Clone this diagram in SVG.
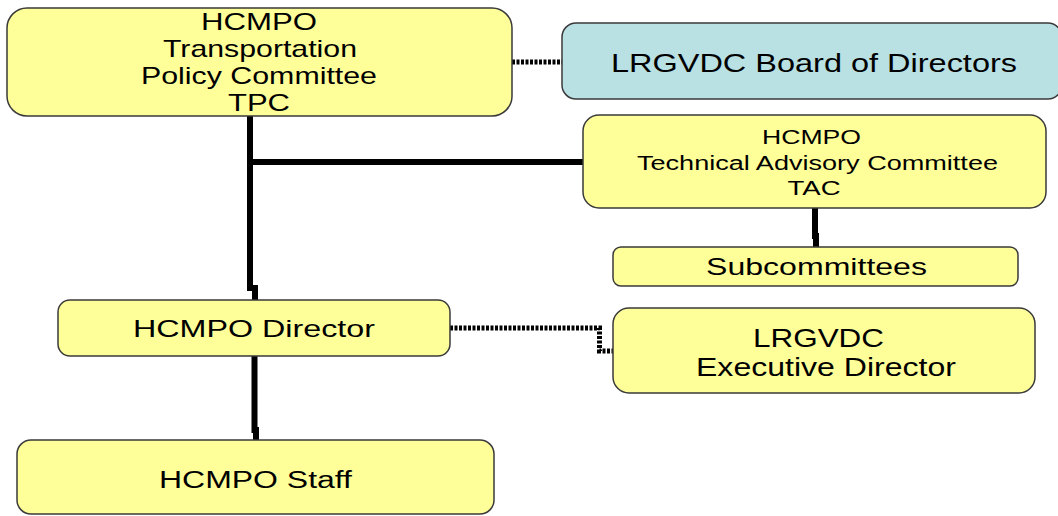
<svg xmlns="http://www.w3.org/2000/svg" width="1058" height="516" viewBox="0 0 1058 516">
<style>
.box{fill:#ffff99;stroke:#3a3a3a;stroke-width:1.5}
.blue{fill:#b9e0e3;stroke:#3a3a3a;stroke-width:1.5}
.t{font-family:"Liberation Sans",Arial,sans-serif;fill:#000;text-anchor:middle}
.solid{fill:none;stroke:#000;stroke-width:6}
.dot{fill:none;stroke:#000;stroke-width:5;stroke-dasharray:3 1.5}
</style>
<rect width="1058" height="516" fill="#fff"/>
<g id="connectors">
<path class="solid" d="M250,116 V288 H255 V301"/>
<path class="solid" d="M250,162 H583"/>
<path class="solid" d="M815,208 V236 H816 V247"/>
<path class="solid" d="M254.5,356 V430 H256 V440"/>
<path class="dot" d="M512,62 H562"/>
<path class="dot" d="M450,328 H599.5 V351 H613"/>
</g>
<g id="tpc">
<rect class="box" x="7" y="8" width="505" height="108" rx="20"/>
<text class="t" font-size="24" x="259" y="30" textLength="116" lengthAdjust="spacingAndGlyphs">HCMPO</text>
<text class="t" font-size="24" x="260" y="57" textLength="194" lengthAdjust="spacingAndGlyphs">Transportation</text>
<text class="t" font-size="24" x="259" y="84" textLength="236" lengthAdjust="spacingAndGlyphs">Policy Committee</text>
<text class="t" font-size="24" x="259" y="111" textLength="62" lengthAdjust="spacingAndGlyphs">TPC</text>
</g>
<g id="board">
<rect class="blue" x="562" y="23" width="500" height="76" rx="14"/>
<text class="t" font-size="26" x="814" y="72" textLength="406" lengthAdjust="spacingAndGlyphs">LRGVDC Board of Directors</text>
</g>
<g id="tac">
<rect class="box" x="583" y="115" width="463" height="93" rx="16"/>
<text class="t" font-size="20" x="811.5" y="144" textLength="99" lengthAdjust="spacingAndGlyphs">HCMPO</text>
<text class="t" font-size="20" x="817.5" y="170" textLength="361" lengthAdjust="spacingAndGlyphs">Technical Advisory Committee</text>
<text class="t" font-size="20" x="814" y="195" textLength="53" lengthAdjust="spacingAndGlyphs">TAC</text>
</g>
<g id="subcommittees">
<rect class="box" x="613" y="247" width="405" height="39" rx="8"/>
<text class="t" font-size="24" x="816.5" y="275" textLength="221" lengthAdjust="spacingAndGlyphs">Subcommittees</text>
</g>
<g id="director">
<rect class="box" x="58" y="300" width="392" height="56" rx="12"/>
<text class="t" font-size="24" x="254" y="337" textLength="242" lengthAdjust="spacingAndGlyphs">HCMPO Director</text>
</g>
<g id="exec">
<rect class="box" x="613" y="308" width="422" height="85" rx="16"/>
<text class="t" font-size="25" x="818.5" y="347" textLength="131" lengthAdjust="spacingAndGlyphs">LRGVDC</text>
<text class="t" font-size="25" x="826" y="376" textLength="260" lengthAdjust="spacingAndGlyphs">Executive Director</text>
</g>
<g id="staff">
<rect class="box" x="17" y="440" width="477" height="74" rx="14"/>
<text class="t" font-size="23" x="255.5" y="488" textLength="193" lengthAdjust="spacingAndGlyphs">HCMPO Staff</text>
</g>
</svg>
